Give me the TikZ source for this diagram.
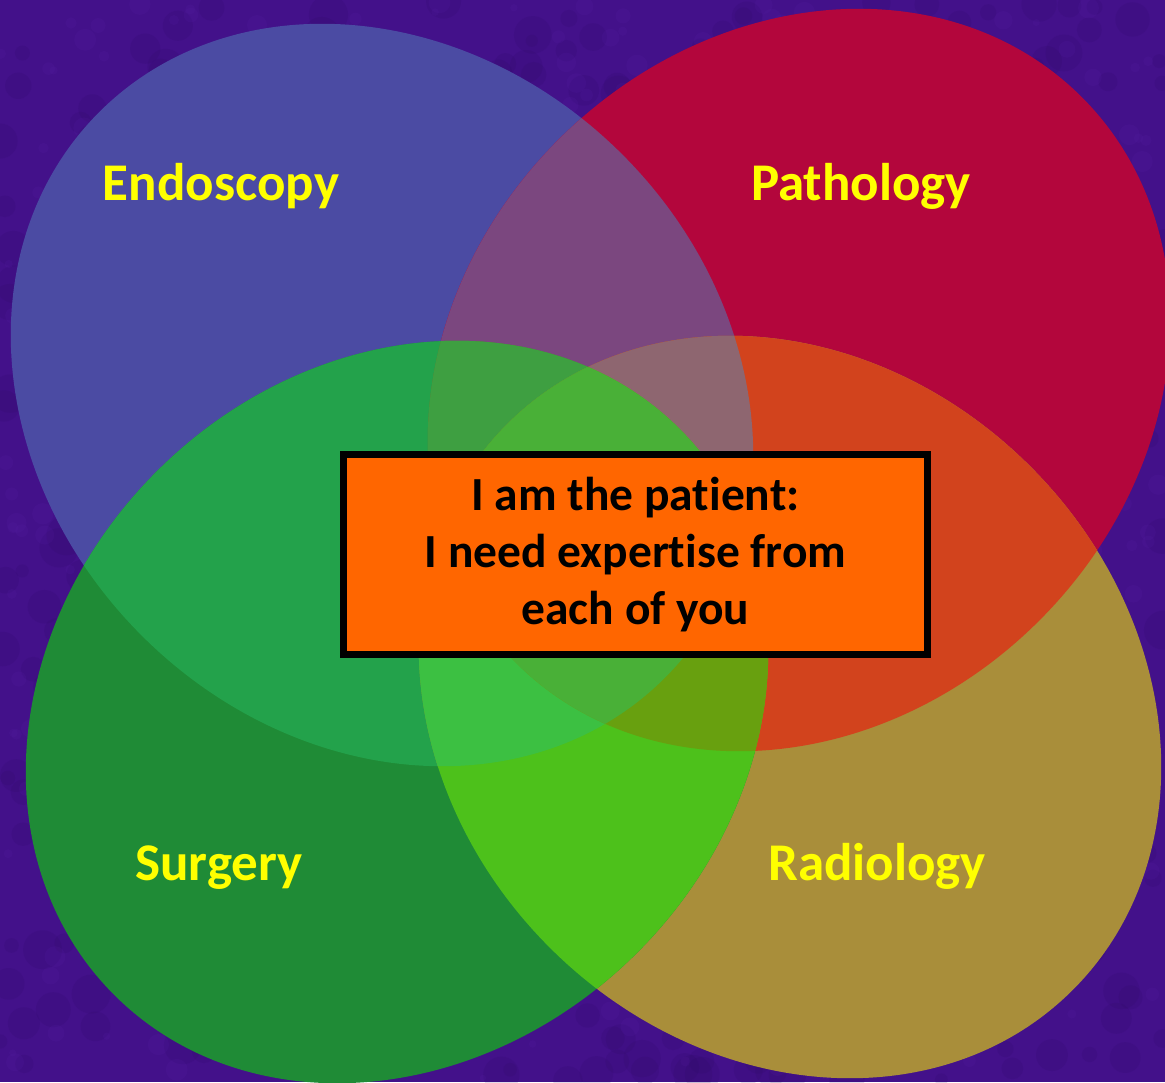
\documentclass[tikz,border=0pt]{standalone}
\usepackage{fontspec}
\setmainfont{Carlito}[Ligatures=NoCommon]
\definecolor{bgc}{HTML}{43118A}
\definecolor{bgdark}{HTML}{2A0860}
\definecolor{bglight}{HTML}{5A22A8}
\definecolor{cB}{HTML}{4B4BA3}
\definecolor{cR}{HTML}{B3063C}
\definecolor{cG}{HTML}{1F8B36}
\definecolor{cO}{HTML}{A98E3A}
\definecolor{cBR}{HTML}{7B477F}
\definecolor{cBG}{HTML}{23A24B}
\definecolor{cBO}{HTML}{7C7A6A}
\definecolor{cRG}{HTML}{6A7A30}
\definecolor{cRO}{HTML}{D2431D}
\definecolor{cGO}{HTML}{4DC11B}
\definecolor{cBRG}{HTML}{3E9F41}
\definecolor{cBRO}{HTML}{8E6670}
\definecolor{cBGO}{HTML}{3CC042}
\definecolor{cRGO}{HTML}{68A00F}
\definecolor{cBRGO}{HTML}{49B037}
\definecolor{boxfill}{HTML}{FF6600}
\definecolor{labelyellow}{HTML}{FFFF00}
\tikzset{
  lbl/.style={font=\fontsize{53}{60}\selectfont\bfseries, text=labelyellow, anchor=base, inner sep=0pt},
  patientbox/.style={draw=black, line width=7pt, fill=boxfill, rectangle, inner sep=0pt,
    minimum width=584pt, minimum height=200pt, align=center,
    font=\fontsize{47.5}{57}\selectfont\bfseries, text=black}
}
\def\ellB{(382,395) ellipse [x radius=400pt,y radius=340pt,rotate=-45]}
\def\ellR{(799,380) ellipse [x radius=400pt,y radius=340pt,rotate=45]}
\def\ellG{(397,712) ellipse [x radius=400pt,y radius=340pt,rotate=45]}
\def\ellO{(790,707) ellipse [x radius=400pt,y radius=340pt,rotate=-45]}
\begin{document}
\begin{tikzpicture}[x=1pt,y=-1pt]
\useasboundingbox (0,0) rectangle (1165,1082);
\fill[bgc] (0,0) rectangle (1165,1082);
% mottled background texture
\begin{scope}
\clip (0,0) rectangle (1165,1082);
\pgfmathsetseed{7}
\foreach \i in {1,...,700}{
  \pgfmathsetmacro{\px}{rnd*1165}
  \pgfmathsetmacro{\py}{rnd*1082}
  \pgfmathsetmacro{\pr}{6+rnd*14}
  \fill[bgdark, opacity=0.14] (\px,\py) circle[radius=\pr pt];
}
\foreach \i in {1,...,500}{
  \pgfmathsetmacro{\px}{rnd*1165}
  \pgfmathsetmacro{\py}{rnd*1082}
  \pgfmathsetmacro{\pr}{3+rnd*8}
  \fill[bglight, opacity=0.14] (\px,\py) circle[radius=\pr pt];
}
\end{scope}
% single sets
\fill[cB] \ellB;
\fill[cR] \ellR;
\fill[cO] \ellO;
\fill[cG] \ellG;
% pairs
\begin{scope}\clip \ellB; \fill[cBR] \ellR; \end{scope}
\begin{scope}\clip \ellB; \fill[cBG] \ellG; \end{scope}
\begin{scope}\clip \ellB; \fill[cBO] \ellO; \end{scope}
\begin{scope}\clip \ellR; \fill[cRG] \ellG; \end{scope}
\begin{scope}\clip \ellR; \fill[cRO] \ellO; \end{scope}
\begin{scope}\clip \ellG; \fill[cGO] \ellO; \end{scope}
% triples
\begin{scope}\clip \ellB; \clip \ellR; \fill[cBRG] \ellG; \end{scope}
\begin{scope}\clip \ellB; \clip \ellR; \fill[cBRO] \ellO; \end{scope}
\begin{scope}\clip \ellB; \clip \ellG; \fill[cBGO] \ellO; \end{scope}
\begin{scope}\clip \ellR; \clip \ellG; \fill[cRGO] \ellO; \end{scope}
% all four
\begin{scope}\clip \ellB; \clip \ellR; \clip \ellG; \fill[cBRGO] \ellO; \end{scope}
% labels
\node[lbl] (endo) at (221,200) {Endoscopy};
\node[lbl] (patho) at (861,200) {Pathology};
\node[lbl] (surg) at (219,880) {Surgery};
\node[lbl] (radio) at (877,880) {Radiology};
% central box
\node[patientbox] (patient) at (635.5,554.5) {I am the patient:\\I need expertise from\\each of you};
\end{tikzpicture}
\end{document}
